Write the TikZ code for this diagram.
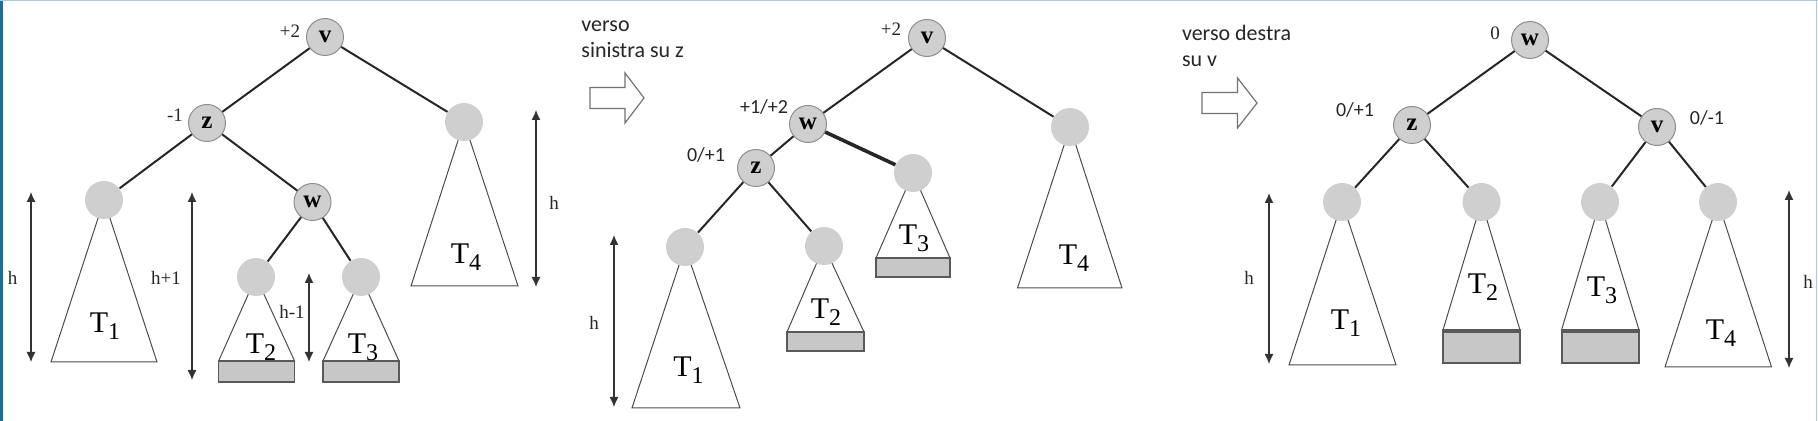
\documentclass[tikz,border=0pt]{standalone}
\usepackage{fontspec}
\setmainfont{Liberation Serif}
\newfontfamily\carlito{Carlito}
\usetikzlibrary{arrows.meta}
\definecolor{knotgray}{HTML}{CFCFCF}
\definecolor{rimgray}{HTML}{8E8E8E}
\definecolor{stripblue}{HTML}{1D6E9C}
\definecolor{lineblue}{HTML}{A7CBDF}
\newcommand\Tname[1]{T\raisebox{-3.5pt}{\fontsize{12}{12}\selectfont #1}}

\begin{document}
\begin{tikzpicture}[x=0.5pt,y=-0.5pt,
    knot/.style={circle,fill=knotgray,draw=rimgray,line width=0.5pt,minimum size=18.5pt,inner sep=0pt,font=\fontsize{12.5}{13}\selectfont\bfseries},
    leaf/.style={circle,fill=knotgray,minimum size=19pt,inner sep=0pt},
    edge/.style={line width=1pt,black!85},
    tri/.style={draw=black!70,line width=0.5pt,fill=white},
    slab/.style={draw=black!65,line width=0.7pt,fill=black!22},
    hbar/.style={line width=0.6pt,black!80,<->,>={Latex[length=5pt,width=4.5pt]}},
    tlabel/.style={font=\fontsize{15}{16}\selectfont,inner sep=0pt},
    small/.style={font=\fontsize{9.5}{10}\selectfont,black!85,inner sep=0pt},
    sans/.style={font=\carlito\fontsize{10}{11}\selectfont,black!85,inner sep=0pt},
    note/.style={font=\carlito\fontsize{11}{12}\selectfont,black!85,anchor=base west,inner sep=0pt},
    hollow/.style={draw=black!55,line width=0.6pt,fill=white}]
    \useasboundingbox (0,0) rectangle (1818,421);
    % Frame
    \fill[stripblue] (0,0) rectangle (2.5,421);
    \fill[lineblue] (0,0) rectangle (1818,1.2);
    \fill[lineblue] (1816.2,0) rectangle (1817.4,421);

    % ---------- Left tree ----------
    % Subtrees
    \draw[tri] (104,200) -- (51,362) -- (157,362) -- cycle;
    \draw[tri] (464,122) -- (411,286) -- (518,286) -- cycle;
    \draw[tri] (256,277) -- (218.6,361) -- (294.6,361) -- cycle;
    \draw[slab] (218.6,361) rectangle (294.6,382);
    \draw[tri] (361,277) -- (323,361) -- (399,361) -- cycle;
    \draw[slab] (323,361) rectangle (399,382);
    % Nodes
    \node[knot] (v1) at (325,37) {v};
    \node[knot] (z1) at (207,123) {z};
    \node[knot] (w1) at (312.5,202) {w};
    \node[leaf] (a1) at (104,200) {};
    \node[leaf] (b1) at (256,277) {};
    \node[leaf] (c1) at (361,277) {};
    \node[leaf] (d1) at (464,122) {};
    % Edges
    \draw[edge] (v1) to (z1);
    \draw[edge] (v1) to (d1);
    \draw[edge] (z1) to (a1);
    \draw[edge] (z1) to (w1);
    \draw[edge] (w1) to (b1);
    \draw[edge] (w1) to (c1);
    % Balance factors
    \node[small] (fv1) at (290,31) {+2};
    \node[small] (fz1) at (175,115) {-1};
    % Heights
    \coordinate (p1) at (31,192);
    \coordinate (q1) at (31,362);
    \draw[hbar] (p1) to (q1);
    \node[small] (h1) at (12.5,278) {h};
    \coordinate (p2) at (192,192);
    \coordinate (q2) at (192,380);
    \draw[hbar] (p2) to (q2);
    \node[small] (h2) at (166,278) {h+1};
    \coordinate (p3) at (309,273);
    \coordinate (q3) at (309,362);
    \draw[hbar] (p3) to (q3);
    \node[small] (h3) at (292,312) {h-1};
    \coordinate (p4) at (536,110);
    \coordinate (q4) at (536,287);
    \draw[hbar] (p4) to (q4);
    \node[small] (h4) at (554,203) {h};
    % Names
    \node[tlabel] (n11) at (105,326) {\Tname{1}};
    \node[tlabel] (n12) at (261,347) {\Tname{2}};
    \node[tlabel] (n13) at (363,347) {\Tname{3}};
    \node[tlabel] (n14) at (466,257) {\Tname{4}};

    % ---------- First step ----------
    \node[note] (s1a) at (581,31.7) {verso};
    \node[note] (s1b) at (581,58) {sinistra su z};
    \draw[hollow] (590,87.5) -- (625,87.5) -- (625,73) -- (644,98) -- (625,123) -- (625,108.5) -- (590,108.5) -- cycle;

    % ---------- Middle tree ----------
    % Subtrees
    \draw[tri] (685,247) -- (632,408) -- (740,408) -- cycle;
    \draw[tri] (824,246) -- (787,332) -- (864,332) -- cycle;
    \draw[slab] (787,332) rectangle (864,351);
    \draw[tri] (913,173) -- (876,258) -- (950,258) -- cycle;
    \draw[slab] (876,258) rectangle (950,277);
    \draw[tri] (1070,127) -- (1017.5,288) -- (1122,288) -- cycle;
    % Nodes
    \node[knot] (v2) at (927,38) {v};
    \node[knot] (w2) at (808,124) {w};
    \node[knot] (z2) at (756,168) {z};
    \node[leaf] (a2) at (685,247) {};
    \node[leaf] (b2) at (824,246) {};
    \node[leaf] (c2) at (913,173) {};
    \node[leaf] (d2) at (1070,127) {};
    % Edges
    \draw[edge] (v2) to (w2);
    \draw[edge] (v2) to (d2);
    \draw[edge] (w2) to (z2);
    \draw[edge,line width=1.8pt] (w2) to (c2);
    \draw[edge] (z2) to (a2);
    \draw[edge] (z2) to (b2);
    % Balance factors
    \node[small] (fv2) at (891,29) {+2};
    \node[sans] (fw2) at (764,107) {+1/+2};
    \node[sans] (fz2) at (706,155) {0/+1};
    % Height
    \coordinate (p5) at (614,235);
    \coordinate (q5) at (614,407);
    \draw[hbar] (p5) to (q5);
    \node[small] (h5) at (594,323) {h};
    % Names
    \node[tlabel] (n21) at (688.5,370) {\Tname{1}};
    \node[tlabel] (n22) at (826,312) {\Tname{2}};
    \node[tlabel] (n23) at (914,238) {\Tname{3}};
    \node[tlabel] (n24) at (1074,258) {\Tname{4}};

    % ---------- Second step ----------
    \node[note] (s2a) at (1181.6,41) {verso destra};
    \node[note] (s2b) at (1181.6,67) {su v};
    \draw[hollow] (1202,92.5) -- (1237.5,92.5) -- (1237.5,78) -- (1257,103) -- (1237.5,128) -- (1237.5,113.5) -- (1202,113.5) -- cycle;

    % ---------- Right tree ----------
    % Subtrees
    \draw[tri] (1342,202) -- (1289,365) -- (1396,365) -- cycle;
    \draw[tri] (1481.5,202) -- (1443,330) -- (1520,330) -- cycle;
    \draw[slab,line width=1pt] (1443,330) rectangle (1520,363);
    \draw[line width=2pt,black!65] (1443,331) to (1520,331);
    \draw[tri] (1600,202) -- (1561.5,330) -- (1639,330) -- cycle;
    \draw[slab,line width=1pt] (1561.5,330) rectangle (1639,363);
    \draw[line width=2pt,black!65] (1561.5,331) to (1639,331);
    \draw[tri] (1718,202) -- (1665,367) -- (1771.5,367) -- cycle;
    % Nodes
    \node[knot] (w3) at (1530,40) {w};
    \node[knot] (z3) at (1412,125) {z};
    \node[knot] (v3) at (1657,127) {v};
    \node[leaf] (a3) at (1342,202) {};
    \node[leaf] (b3) at (1481.5,202) {};
    \node[leaf] (c3) at (1600,202) {};
    \node[leaf] (d3) at (1718,202) {};
    % Edges
    \draw[edge] (w3) to (z3);
    \draw[edge] (w3) to (v3);
    \draw[edge] (z3) to (a3);
    \draw[edge] (z3) to (b3);
    \draw[edge] (v3) to (c3);
    \draw[edge] (v3) to (d3);
    % Balance factors
    \node[small] (fw3) at (1495,33) {0};
    \node[sans] (fz3) at (1355,110) {0/+1};
    \node[sans] (fv3) at (1707,118) {0/-1};
    % Heights
    \coordinate (p6) at (1269,193);
    \coordinate (q6) at (1269,364);
    \draw[hbar] (p6) to (q6);
    \node[small] (h6) at (1249,278) {h};
    \coordinate (p7) at (1789,190);
    \coordinate (q7) at (1789,368);
    \draw[hbar] (p7) to (q7);
    \node[small] (h7) at (1808,282) {h};
    % Names
    \node[tlabel] (n31) at (1346,323) {\Tname{1}};
    \node[tlabel] (n32) at (1483,287) {\Tname{2}};
    \node[tlabel] (n33) at (1602,290) {\Tname{3}};
    \node[tlabel] (n34) at (1721,333) {\Tname{4}};
\end{tikzpicture}
\end{document}
